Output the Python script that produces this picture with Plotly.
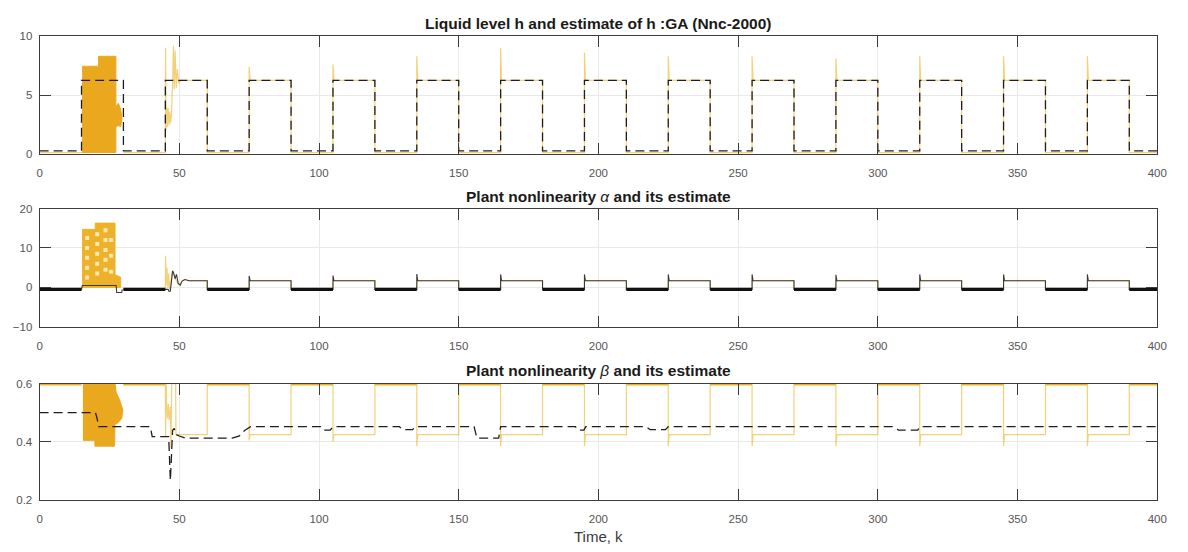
import plotly.graph_objects as go

# ---------------------------------------------------------------------------
# Data
# ---------------------------------------------------------------------------
# instants (time k) where the square-wave set-point switches
k_switch = [0, 15, 30, 45, 60, 75, 90, 105, 120, 135, 150, 165, 180, 195,
            210, 225, 240, 255, 270, 285, 300, 315, 330, 345, 360, 375, 390, 400]

# ---- liquid level h (yellow) and its estimate (dashed) ----
h_est = [0.25, 6.25, 0.25, 6.25, 0.25, 6.25, 0.25, 6.25, 0.25, 6.25, 0.25, 6.25, 0.25, 6.25,
         0.25, 6.25, 0.25, 6.25, 0.25, 6.25, 0.25, 6.25, 0.25, 6.25, 0.25, 6.25, 0.25]
h_level = [0.1, None, 0.1, 6.25, 0.1, 6.25, 0.1, 6.25, 0.1, 6.25, 0.1, 6.25, 0.1, 6.25,
           0.1, 6.25, 0.1, 6.25, 0.1, 6.25, 0.1, 6.25, 0.1, 6.25, 0.1, 6.25, 0.1]
h_peak = [None, None, None, None, None, 7.4, None, 7.6, None, 8.3, None, 9.0, None, 8.6,
          None, 8.3, None, 8.3, None, 8.1, None, 8.3, None, 8.3, None, 8.3, None]
# chattering burst during the first high phase (envelope polygon)
h_burst_k = [15.2, 21.1, 21.1, 27.3, 27.3, 28.2, 29.0, 29.5, 29.0, 28.2, 27.3, 27.3, 15.2]
h_burst_v = [7.45, 7.45, 8.3, 8.3, 4.0, 4.3, 3.8, 3.0, 2.3, 2.4, 2.3, 0.1, 0.1]
h_burst_line_k = [15.0, 15.2]
h_burst_line_v = [0.1, 0.1]
# transient at the start of the second high phase
h_tr_k = [45.0, 45.1, 45.3, 45.5, 45.7, 46.0, 46.3, 46.6, 46.9, 47.2, 47.6, 47.9, 48.2,
          48.5, 48.9, 49.3, 49.8, 50.5]
h_tr_v = [0.1, 9.0, 2.0, 4.0, 2.3, 3.9, 2.4, 3.6, 2.6, 3.4, 6.0, 9.2, 5.5, 8.8, 5.6,
          7.2, 6.0, 6.25]

# ---- plant nonlinearity alpha (black) and its estimate (yellow) ----
alpha_level = [-0.5, None, -0.5, 1.7, -0.5, 1.7, -0.5, 1.7, -0.5, 1.7, -0.5, 1.7, -0.5, 1.7,
               -0.5, 1.7, -0.5, 1.7, -0.5, 1.7, -0.5, 1.7, -0.5, 1.7, -0.5, 1.7, -0.5]
alpha_peak = [None, None, None, None, None, 2.9, None, 3.0, None, 3.4, None, 3.3, None, 3.3,
              None, 3.3, None, 3.3, None, 3.2, None, 3.3, None, 3.3, None, 3.3, None]
alpha_b1_k = [15.0, 15.3, 27.4, 27.6, 29.4, 29.6]
alpha_b1_v = [-0.5, 0.5, 0.5, -1.3, -1.3, -0.5]
alpha_tr_k = [45.0, 46.0, 46.3, 46.8, 47.6, 48.0, 48.5, 49.0, 49.6, 50.3, 51.0, 52.0, 53.5]
alpha_tr_v = [-0.5, -0.5, -1.0, -0.9, 4.2, 3.6, 2.2, 3.3, 1.0, 0.6, 1.6, 2.0, 1.7]
alpha_hat_tr_k = [45.0, 45.1, 45.3, 45.6, 45.9, 46.2, 46.5, 47.6, 48.5, 49.6, 50.3, 51.0, 52.0, 53.5]
alpha_hat_tr_v = [-0.5, 8.0, 0.5, 5.0, 0.0, 3.5, -0.5, 4.2, 2.2, 1.0, 0.6, 1.6, 2.0, 1.7]
alpha_burst_k = [15.2, 19.9, 19.9, 27.0, 27.0, 28.0, 29.0, 29.0, 15.2]
alpha_burst_v = [14.7, 14.7, 16.3, 16.3, 3.2, 3.0, 2.6, 0.0, 0.0]
alpha_hat_b1_k = [15.0, 15.2]
alpha_hat_b1_v = [-0.5, -0.5]
# lighter spots inside the alpha burst (where the fast oscillation thins out)
alpha_spot_k = [17.0, 17.0, 17.0, 17.0, 17.0, 20.6, 20.6, 20.6, 20.6, 20.6, 23.6, 23.6,
                23.6, 23.6, 23.6, 25.6, 25.6, 25.6]
alpha_spot_v = [12.5, 10.0, 7.5, 5.0, 2.5, 13.5, 11.0, 8.5, 6.0, 3.5, 14.5, 12.0,
                9.5, 7.0, 4.5, 12.0, 8.0, 4.0]

# ---- plant nonlinearity beta (yellow) and its estimate (dashed) ----
beta_level = [0.6, None, 0.6, 0.425, 0.6, 0.425, 0.6, 0.425, 0.6, 0.425, 0.6, 0.425, 0.6, 0.425,
              0.6, 0.425, 0.6, 0.425, 0.6, 0.425, 0.6, 0.425, 0.6, 0.425, 0.6, 0.425, 0.6]
beta_dip = [None, None, None, None, None, 0.405, None, 0.40, None, 0.385, None, 0.385, None, 0.385,
            None, 0.385, None, 0.385, None, 0.385, None, 0.385, None, 0.385, None, 0.385, None]
beta_burst_k = [15.5, 27.0, 27.4, 28.6, 29.8, 29.4, 28.0, 27.0, 26.8, 19.8, 19.8, 15.5]
beta_burst_v = [0.6, 0.6, 0.57, 0.545, 0.51, 0.48, 0.465, 0.46, 0.385, 0.385, 0.405, 0.405]
beta_b1_k = [15.0, 15.5]
beta_b1_v = [0.6, 0.6]
beta_tr_k = [45.0, 45.1, 45.3, 45.5, 45.8, 46.1, 46.4, 46.8, 47.0, 47.3, 48.7, 48.8]
beta_tr_v = [0.6, 0.42, 0.6, 0.53, 0.48, 0.53, 0.475, 0.52, 0.38, 0.6, 0.6, 0.425]
beta_est_k = [0, 20.0, 20.6, 21.1, 39.6, 40.3, 46.2, 46.5, 46.8, 47.1, 47.6, 48.2, 48.8, 50.0,
              52.0, 69.0, 71.5, 73.5, 75.5, 100.5, 101.5, 104.0, 105.0, 128.8, 129.8, 133.5,
              134.5, 155.5, 156.5, 164.3, 165.0, 191.8, 192.8, 194.8, 195.5, 217.0, 218.5,
              224.0, 225.0, 305.5, 307.5, 314.3, 315.0, 400]
beta_est_v = [0.5, 0.5, 0.48, 0.452, 0.452, 0.418, 0.418, 0.35, 0.267, 0.33, 0.44, 0.446,
              0.425, 0.42, 0.413, 0.413, 0.42, 0.44, 0.452, 0.452, 0.44, 0.44, 0.452, 0.452,
              0.442, 0.442, 0.452, 0.452, 0.413, 0.413, 0.452, 0.452, 0.44, 0.44, 0.452, 0.452,
              0.442, 0.442, 0.452, 0.452, 0.44, 0.44, 0.452, 0.452]

x_ticks = [0, 50, 100, 150, 200, 250, 300, 350, 400]

# ---------------------------------------------------------------------------
# Helpers
# ---------------------------------------------------------------------------
SPIKE_W = 0.35


def step_path(levels, extremes=None, replace=None):
    """Piecewise-constant path over k_switch with optional edge spikes."""
    xs, ys = [], []
    for i, lv in enumerate(levels):
        s, e = k_switch[i], k_switch[i + 1]
        if replace and i in replace:
            rk, rv = replace[i]
            xs += list(rk)
            ys += list(rv)
        elif extremes is not None and extremes[i] is not None:
            xs += [s, s + SPIKE_W]
            ys += [extremes[i], lv]
        else:
            xs.append(s)
            ys.append(lv)
        xs.append(e)
        ys.append(lv)
    return xs, ys


def low_segments(levels):
    xs, ys = [], []
    for i in range(0, len(levels), 2):
        if levels[i] is None:
            continue
        xs += [k_switch[i], k_switch[i + 1], None]
        ys += [levels[i], levels[i], None]
    return xs, ys


def hold(levels):
    xs, ys = [], []
    for i, lv in enumerate(levels):
        xs += [k_switch[i], k_switch[i + 1]]
        ys += [lv, lv]
    return xs, ys


YEL = "#EDB120"
YEL_THIN = "rgba(237,177,32,0.6)"
BAND = "#EAA81E"
DASH = dict(color="#1e1e1e", width=1.3, dash="9px,5px")

fig = go.Figure()

# ---- panel 1: liquid level ----
fig.add_trace(go.Scatter(x=h_burst_k, y=h_burst_v, fill="toself", fillcolor=BAND,
                         line=dict(color=BAND, width=1), mode="lines",
                         xaxis="x", yaxis="y"))
hx, hy = step_path(h_level, h_peak, {1: (h_burst_line_k, h_burst_line_v), 3: (h_tr_k, h_tr_v)})
fig.add_trace(go.Scatter(x=hx, y=hy, mode="lines", line=dict(color=YEL_THIN, width=1.2),
                         xaxis="x", yaxis="y"))
ex, ey = hold(h_est)
fig.add_trace(go.Scatter(x=ex, y=ey, mode="lines", line=DASH, xaxis="x", yaxis="y"))

# ---- panel 2: alpha ----
fig.add_trace(go.Scatter(x=alpha_burst_k, y=alpha_burst_v, fill="toself", fillcolor="#EDB22A",
                         line=dict(color="#EDB22A", width=1), mode="lines",
                         xaxis="x2", yaxis="y2"))
fig.add_trace(go.Scatter(x=alpha_spot_k, y=alpha_spot_v, mode="markers",
                         marker=dict(symbol="square", size=4, color="rgba(255,240,200,0.85)"),
                         xaxis="x2", yaxis="y2"))
ahx, ahy = step_path(alpha_level, None,
                     {1: (alpha_hat_b1_k, alpha_hat_b1_v), 3: (alpha_hat_tr_k, alpha_hat_tr_v)})
fig.add_trace(go.Scatter(x=ahx, y=ahy, mode="lines", line=dict(color=YEL_THIN, width=1.2),
                         xaxis="x2", yaxis="y2"))
ax_, ay_ = step_path(alpha_level, alpha_peak, {1: (alpha_b1_k, alpha_b1_v), 3: (alpha_tr_k, alpha_tr_v)})
fig.add_trace(go.Scatter(x=ax_, y=ay_, mode="lines", line=dict(color="#3a3a3a", width=1.1),
                         xaxis="x2", yaxis="y2"))
lx, ly = low_segments(alpha_level)
fig.add_trace(go.Scatter(x=lx, y=ly, mode="lines", line=dict(color="#111111", width=3.2),
                         xaxis="x2", yaxis="y2"))

# ---- panel 3: beta ----
fig.add_trace(go.Scatter(x=beta_burst_k, y=beta_burst_v, fill="toself", fillcolor=BAND,
                         line=dict(color=BAND, width=1), mode="lines",
                         xaxis="x3", yaxis="y3"))
bx, by = step_path(beta_level, beta_dip, {1: (beta_b1_k, beta_b1_v), 3: (beta_tr_k, beta_tr_v)})
fig.add_trace(go.Scatter(x=bx, y=by, mode="lines", line=dict(color=YEL_THIN, width=1.2),
                         xaxis="x3", yaxis="y3"))
blx, bly = low_segments(beta_level)
fig.add_trace(go.Scatter(x=blx, y=bly, mode="lines", line=dict(color=YEL, width=4),
                         xaxis="x3", yaxis="y3"))
fig.add_trace(go.Scatter(x=beta_est_k, y=beta_est_v, mode="lines", line=DASH,
                         xaxis="x3", yaxis="y3"))

# ---------------------------------------------------------------------------
# Layout
# ---------------------------------------------------------------------------
W, H = 1188, 552
FONT = "Liberation Sans, Arial, Helvetica, sans-serif"
x_dom = [37 / W, 1167 / W]


def ydom(top_px, bottom_px):
    return [1 - bottom_px / H, 1 - top_px / H]


axis_common = dict(showline=True, linecolor="#3c3c3c", linewidth=1, mirror="ticks",
                   ticks="inside", ticklen=11, tickcolor="#3c3c3c", tickwidth=1,
                   showgrid=True, gridcolor="#e9e9e9", gridwidth=1, zeroline=False,
                   tickfont=dict(family=FONT, size=11.5, color="#555555"))

xaxis = dict(axis_common, domain=x_dom, range=[0, 400], tickvals=x_ticks,
             ticklabelstandoff=8)
yaxis_common = dict(axis_common, ticklabelstandoff=4)

layout = dict(
    width=W, height=H, margin=dict(l=0, r=0, t=0, b=0),
    paper_bgcolor="white", plot_bgcolor="white", showlegend=False,
    xaxis=dict(xaxis, anchor="y"),
    xaxis2=dict(xaxis, anchor="y2"),
    xaxis3=dict(xaxis, anchor="y3"),
    yaxis=dict(yaxis_common, domain=ydom(31, 151), anchor="x", range=[0, 10],
               tickvals=[0, 5, 10]),
    yaxis2=dict(yaxis_common, domain=ydom(207, 328), anchor="x2", range=[-10, 20],
                tickvals=[-10, 0, 10, 20]),
    yaxis3=dict(yaxis_common, domain=ydom(386, 505), anchor="x3", range=[0.2, 0.6],
                tickvals=[0.2, 0.4, 0.6], tickformat=".1f"),
)
fig.update_layout(**layout)

title_font = dict(family=FONT, size=15.5, color="#1a1a1a")
xc = (x_dom[0] + x_dom[1]) / 2
titles = [
    ("<b>Liquid level h and estimate of h :GA (Nnc-2000)</b>", 18),
    ("<b>Plant nonlinearity </b><i>α</i><b> and its estimate</b>", 195),
    ("<b>Plant nonlinearity </b><i>β</i><b> and its estimate</b>", 373),
]
for text, ypx in titles:
    fig.add_annotation(text=text, xref="paper", yref="paper", x=xc, y=1 - ypx / H,
                       xanchor="center", yanchor="middle", showarrow=False, font=title_font)
fig.add_annotation(text="Time, k", xref="paper", yref="paper", x=xc, y=1 - 542 / H,
                   xanchor="center", yanchor="middle", showarrow=False,
                   font=dict(family=FONT, size=15, color="#3a3a3a"))

fig.write_html("out.html")
